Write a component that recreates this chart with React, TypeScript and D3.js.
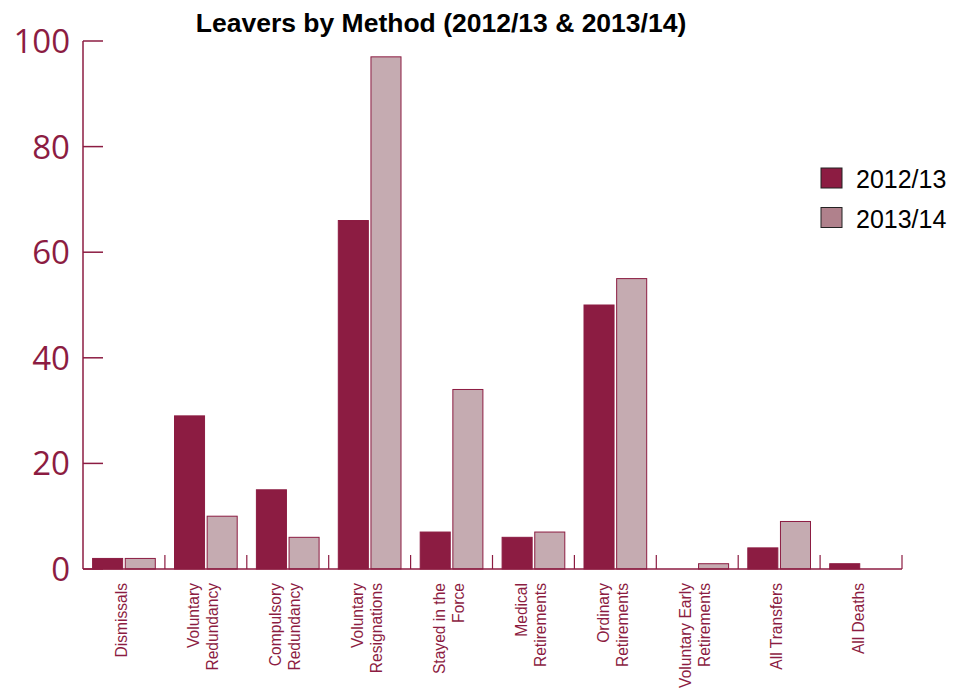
import React from "react";
import * as d3 from "d3";

const categories: string[][] = [
  ["Dismissals"],
  ["Voluntary", "Redundancy"],
  ["Compulsory", "Redundancy"],
  ["Voluntary", "Resignations"],
  ["Stayed in the", "Force"],
  ["Medical", "Retirements"],
  ["Ordinary", "Retirements"],
  ["Voluntary Early", "Retirements"],
  ["All Transfers"],
  ["All Deaths"],
];
const seriesNames = ["2012/13", "2013/14"];
const values2012 = [2, 29, 15, 66, 7, 6, 50, 0, 4, 1];
const values2013 = [2, 10, 6, 97, 34, 7, 55, 1, 9, 0];
const yTicks = [0, 20, 40, 60, 80, 100];

const DARK = "#8C1C42";
const LIGHT = "#C5ABB1";
const LEGEND_LIGHT = "#B0818C";

export default function App() {
  const W = 955, H = 689;
  const left = 83, right = 902, top = 41, bottom = 569;
  const keys = categories.map((_, i) => String(i));
  const x0 = d3.scaleBand<string>().domain(keys).range([left, right]).padding(0);
  const bw = x0.bandwidth();
  const x1 = d3.scaleBand<string>().domain(seriesNames).range([9.6, bw - 9.6]).paddingInner(0.08);
  const y = d3.scaleLinear().domain([0, 100]).range([bottom, top]);
  const series = [values2012, values2013];
  const fills = [DARK, LIGHT];

  return (
    <svg width={W} height={H} style={{ position: "absolute", left: 0, top: 0, background: "#fff" }}>
      <text x={441} y={32} textAnchor="middle" fontFamily="Liberation Sans, Arial, sans-serif" fontWeight="bold" fontSize={26.5} fill="#000">
        Leavers by Method (2012/13 &amp; 2013/14)
      </text>
      {/* bars */}
      {series.map((vals, s) =>
        vals.map((v, i) => {
          const bx = (x0(keys[i]) as number) + (x1(seriesNames[s]) as number);
          return (
            <rect key={`${s}-${i}`} x={bx} y={y(v)} width={x1.bandwidth()} height={y(0) - y(v)}
              fill={fills[s]} stroke={DARK} strokeWidth={1} />
          );
        })
      )}
      {/* y axis */}
      <line x1={left} x2={left} y1={top} y2={bottom} stroke={DARK} strokeWidth={1.5} />
      {yTicks.map((t) => (
        <g key={t}>
          <line x1={left} x2={left + 20} y1={y(t)} y2={y(t)} stroke={DARK} strokeWidth={1.5} />
          <text x={70} y={y(t) + 12} textAnchor="end" fontFamily="Open Sans, sans-serif" fontSize={33} fill={DARK}>
            {t}
          </text>
        </g>
      ))}
      {/* x axis */}
      <line x1={left} x2={right} y1={bottom} y2={bottom} stroke={DARK} strokeWidth={1.5} />
      {keys.map((k, i) => {
        const xe = (x0(k) as number) + bw;
        return <line key={`t${i}`} x1={xe} x2={xe} y1={bottom - 14} y2={bottom} stroke={DARK} strokeWidth={1.2} />;
      })}
      {categories.map((lines, i) => {
        const cx = (x0(keys[i]) as number) + bw / 2 - 3;
        const n = lines.length;
        return lines.map((ln, j) => {
          const lx = cx + (j - (n - 1) / 2) * 19 + 6;
          return (
            <text key={`l${i}-${j}`} transform={`translate(${lx},${583}) rotate(-90)`} textAnchor="end"
              fontFamily="Liberation Sans, Arial, sans-serif" fontSize={15.6} fill={DARK}>
              {ln}
            </text>
          );
        });
      })}
      {/* legend */}
      {seriesNames.map((s, i) => (
        <g key={s} transform={`translate(821,${168 + i * 39.5})`}>
          <rect x={0} y={0} width={21} height={20} fill={i === 0 ? DARK : LEGEND_LIGHT} stroke="#222" strokeWidth={1} />
          <text x={35} y={20} fontFamily="Liberation Sans, Arial, sans-serif" fontSize={25} fill="#000">{s}</text>
        </g>
      ))}
    </svg>
  );
}
